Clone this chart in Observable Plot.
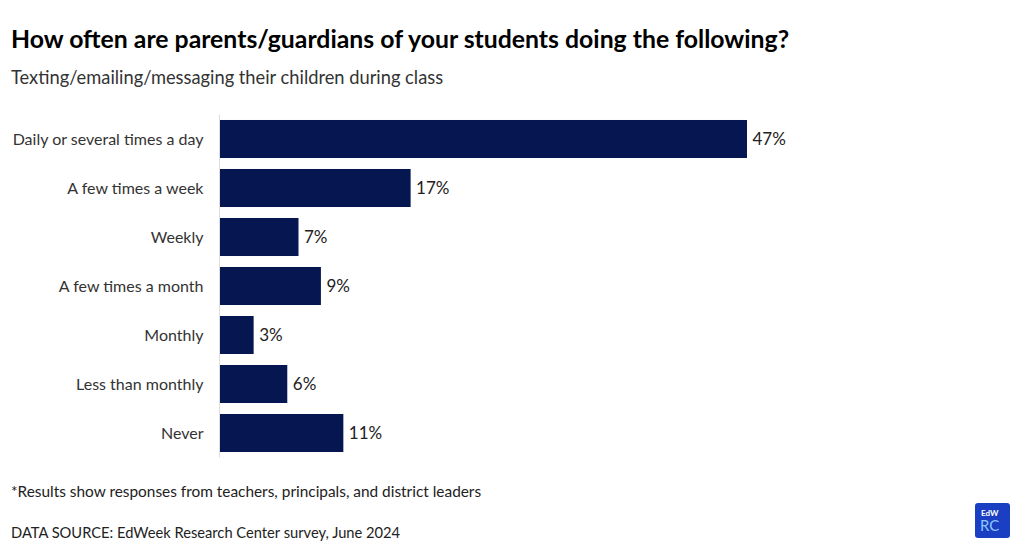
<!DOCTYPE html>
<html>
<head>
<meta charset="utf-8">
<script src="https://cdn.jsdelivr.net/npm/d3@7"></script>
<script src="https://cdn.jsdelivr.net/npm/@observablehq/plot@0.6"></script>
<style>
  html, body { margin: 0; padding: 0; background: #fff; }
  body { width: 1020px; height: 552px; position: relative; overflow: hidden; font-family: Lato, "Noto Sans", sans-serif; color: #111; }
  #title { position: absolute; left: 11px; top: 24px; font-size: 24.8px; font-weight: 700; color: #000; white-space: nowrap; }
  #subtitle { position: absolute; left: 11px; top: 66px; font-size: 18.3px; color: #333; white-space: nowrap; }
  #chart { position: absolute; left: 0; top: 105px; }
  #note { position: absolute; left: 11px; top: 482px; font-size: 15.4px; color: #222; white-space: nowrap; }
  #source { position: absolute; left: 11px; top: 523px; font-size: 14.7px; color: #222; white-space: nowrap; }
  #logo { position: absolute; left: 975px; top: 503px; width: 35px; height: 35px; background: #1b3fc2; border-radius: 3px; }
  #logo .a { position: absolute; left: 6px; top: 5px; font-size: 8px; color: #fff; font-weight: 700; }
  #logo .b { position: absolute; left: 5px; top: 13px; font-size: 15px; color: #8cc8ff; }
</style>
</head>
<body>
<div id="title">How often are parents/guardians of your students doing the following?</div>
<div id="subtitle">Texting/emailing/messaging their children during class</div>
<div id="chart"></div>
<div id="note">*Results show responses from teachers, principals, and district leaders</div>
<div id="source">DATA SOURCE: EdWeek Research Center survey, June 2024</div>
<div id="logo"><span class="a">EdW</span><span class="b">RC</span></div>
<script>
const categories = ["Daily or several times a day", "A few times a week", "Weekly", "A few times a month", "Monthly", "Less than monthly", "Never"];
const values = [47, 17, 7, 9, 3, 6, 11];
const data = categories.map((c, i) => ({category: c, value: values[i]}));

const chart = Plot.plot({
  width: 1020,
  height: 360,
  marginLeft: 220,
  marginRight: 273,
  marginTop: 9.5,
  marginBottom: 7.5,
  style: {fontFamily: "Lato, 'Noto Sans', sans-serif", fontSize: "16px", color: "#333", background: "transparent"},
  x: {domain: [0, 47], axis: null},
  y: {domain: categories, paddingInner: 0.224, paddingOuter: 0.112, round: false, label: null, tickSize: 0, tickPadding: 17},
  marks: [
    Plot.barX(data, {x: "value", y: "category", fill: "#051650"}),
    Plot.ruleX([0], {stroke: "#ddd", strokeWidth: 1, dx: -1}),
    Plot.text(data, {x: "value", y: "category", text: d => d.value + "%", textAnchor: "start", dx: 5, fill: "#222", fontSize: 17})
  ]
});
document.getElementById("chart").appendChild(chart);
</script>
</body>
</html>
